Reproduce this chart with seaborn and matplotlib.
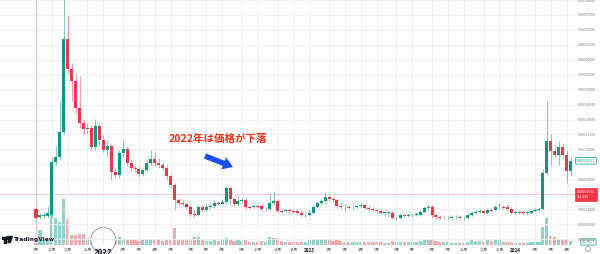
import numpy as np
import pandas as pd
import matplotlib
matplotlib.use("Agg")
import matplotlib.pyplot as plt
import seaborn as sns
from matplotlib.patches import Circle, FancyArrow, Rectangle, Polygon
from matplotlib.transforms import IdentityTransform

# ---------------- data (weekly candles, price in units of 1e-6) ----------------
open_ = [10.0, 7.3, 7.7, 7.7, 8.0, 25.7, 27.3, 35.7, 67.0, 57.0,
         53.0, 44.0, 39.0, 36.7, 37.0, 30.7, 37.7, 33.0, 29.7, 31.0,
         22.3, 21.3, 28.7, 30.0, 25.3, 23.7, 23.3, 21.7, 23.0, 25.3,
         26.7, 25.3, 24.7, 23.7, 21.0, 18.0, 13.0, 12.0, 11.7, 10.7,
         8.3, 8.0, 10.7, 9.7, 10.7, 11.0, 12.0, 11.7, 12.3, 17.0,
         13.3, 11.7, 12.7, 13.0, 10.7, 10.7, 11.0, 11.0, 10.0, 10.0,
         12.0, 12.7, 9.3, 9.3, 9.7, 9.3, 9.3, 8.7, 8.0, 8.0,
         8.7, 10.7, 12.0, 12.7, 14.0, 13.3, 13.0, 11.0, 10.7, 10.7,
         10.7, 10.7, 11.0, 11.3, 10.3, 10.0, 9.7, 9.3, 8.7, 8.7,
         8.7, 7.0, 7.0, 8.0, 7.7, 8.0, 8.0, 8.0, 9.0, 10.3,
         10.7, 8.0, 7.3, 7.0, 7.0, 7.0, 7.3, 7.3, 7.0, 7.0,
         8.0, 8.7, 9.0, 9.3, 8.7, 9.7, 9.7, 10.7, 10.7, 10.7,
         10.0, 8.7, 9.0, 9.0, 8.7, 8.7, 9.3, 9.7, 10.0, 22.0,
         32.7, 29.3, 28.0, 30.7, 28.0, 22.7]
close = [7.0, 8.0, 8.0, 8.7, 25.7, 27.3, 35.7, 67.0, 57.0, 53.0,
         44.0, 39.0, 36.7, 37.0, 30.7, 37.7, 33.0, 29.7, 31.0, 22.3,
         21.3, 28.7, 30.0, 25.3, 23.7, 23.3, 21.7, 23.0, 25.3, 26.7,
         25.3, 24.7, 23.7, 21.0, 18.0, 13.0, 12.0, 11.7, 10.7, 8.3,
         8.0, 10.7, 9.7, 10.7, 11.0, 12.0, 11.8, 12.3, 17.0, 13.3,
         11.7, 12.7, 13.0, 10.7, 10.5, 11.0, 10.8, 10.0, 10.0, 12.0,
         12.7, 9.3, 9.2, 9.7, 9.3, 9.2, 8.7, 8.0, 8.0, 8.7,
         10.7, 12.0, 12.7, 14.0, 13.3, 13.0, 11.0, 10.7, 10.7, 10.5,
         10.7, 11.0, 11.3, 10.3, 10.0, 9.7, 9.3, 8.7, 8.7, 8.7,
         7.0, 7.0, 8.0, 7.7, 8.0, 8.0, 8.3, 9.0, 10.3, 10.7,
         8.0, 7.3, 7.0, 7.2, 7.0, 7.3, 7.3, 7.2, 7.0, 8.0,
         8.7, 9.0, 9.3, 8.7, 9.7, 9.5, 10.7, 10.7, 10.5, 10.0,
         8.7, 9.0, 8.8, 8.7, 8.7, 9.3, 9.7, 10.0, 22.0, 32.7,
         29.3, 28.0, 30.7, 28.0, 22.7, 26.17]
high = [10.7, 8.7, 9.0, 11.0, 27.0, 31.3, 46.3, 80.7, 74.7, 59.0,
        55.7, 54.7, 40.3, 39.0, 38.0, 40.3, 39.0, 34.7, 33.0, 31.7,
        23.7, 29.7, 33.0, 31.0, 26.3, 24.7, 24.3, 23.7, 26.3, 29.7,
        29.0, 27.0, 25.7, 24.7, 21.7, 18.7, 13.7, 13.0, 12.0, 11.3,
        9.7, 11.3, 11.3, 11.7, 12.0, 13.0, 12.7, 13.3, 17.7, 17.3,
        14.0, 14.3, 13.7, 13.7, 11.3, 11.7, 11.7, 11.7, 10.7, 15.3,
        16.0, 13.3, 10.0, 10.3, 10.3, 10.0, 10.0, 9.3, 8.7, 9.7,
        11.3, 12.7, 13.3, 15.7, 14.7, 14.0, 13.7, 12.0, 11.7, 11.3,
        11.3, 11.7, 12.0, 12.0, 11.0, 10.7, 10.3, 10.0, 9.3, 9.3,
        9.3, 7.7, 8.7, 8.3, 8.7, 8.7, 9.0, 9.7, 11.0, 11.3,
        11.3, 8.7, 8.0, 7.7, 7.7, 8.0, 8.0, 8.0, 7.7, 8.7,
        9.3, 9.7, 10.0, 10.0, 10.3, 10.3, 11.3, 12.0, 11.3, 11.3,
        10.7, 9.7, 9.7, 9.3, 9.3, 10.0, 10.3, 10.7, 23.3, 46.3,
        35.3, 31.3, 32.7, 32.0, 29.7, 27.7]
low = [6.3, 6.7, 7.0, 7.0, 7.3, 24.7, 26.3, 35.0, 55.7, 46.3,
       42.3, 37.0, 35.3, 35.3, 29.7, 29.7, 31.3, 29.0, 27.7, 19.7,
       20.3, 20.3, 27.7, 24.3, 22.3, 22.3, 20.7, 21.0, 22.3, 24.7,
       24.3, 23.7, 23.0, 19.7, 17.0, 9.7, 11.0, 11.0, 10.0, 7.7,
       7.3, 7.7, 9.0, 9.3, 10.0, 10.3, 11.3, 11.3, 11.7, 11.3,
       11.0, 11.3, 12.0, 10.0, 10.0, 10.3, 10.3, 9.3, 9.3, 9.7,
       11.3, 8.7, 8.7, 9.0, 8.7, 8.7, 8.0, 7.3, 7.3, 7.7,
       8.3, 10.3, 11.7, 12.0, 12.7, 12.3, 10.3, 10.0, 9.3, 10.0,
       10.0, 10.3, 10.7, 10.0, 9.3, 9.3, 9.0, 8.3, 8.0, 8.0,
       6.7, 6.3, 6.7, 7.3, 7.3, 7.3, 7.7, 7.7, 8.7, 9.7,
       7.3, 6.7, 6.7, 6.7, 6.3, 6.7, 6.7, 6.7, 6.3, 6.7,
       7.7, 8.3, 8.7, 8.3, 8.3, 9.0, 9.3, 10.0, 10.0, 9.7,
       8.3, 8.3, 8.3, 8.0, 8.0, 8.3, 9.0, 9.3, 9.7, 21.3,
       24.7, 27.0, 24.7, 27.0, 18.7, 21.0]
volume = [10, 75, 25, 25, 230, 135, 115, 230, 130, 50,
          50, 55, 55, 35, 25, 30, 25, 30, 40, 35,
          25, 40, 30, 30, 25, 25, 20, 25, 25, 30,
          25, 30, 20, 25, 30, 85, 25, 25, 25, 25,
          40, 40, 25, 20, 20, 30, 20, 25, 35, 30,
          20, 25, 20, 25, 15, 15, 15, 20, 15, 40,
          35, 35, 20, 15, 15, 15, 15, 15, 15, 25,
          30, 25, 30, 25, 25, 20, 25, 20, 15, 15,
          15, 15, 15, 15, 15, 15, 15, 15, 10, 10,
          20, 15, 15, 15, 15, 15, 15, 20, 25, 25,
          30, 20, 15, 15, 15, 10, 10, 10, 10, 15,
          25, 20, 20, 15, 25, 20, 30, 25, 15, 15,
          15, 10, 10, 10, 10, 15, 15, 15, 90, 135,
          45, 40, 30, 25, 30, 19.961]
price_ticks = [0, 5, 10, 15, 20, 25, 30, 35, 40, 45, 50, 55, 60, 65, 70, 75, 80]
hidden_ticks = [15, 25]          # covered by the price tags in the reference
first_week = "2021-09-06"
crosshair_price = 15.13
countdown = "4d 23h"
volume_tag = "19.961T"
title_text = "2022年は価格が下落"

# ---------------- styling ----------------
sns.set_theme(style="white")
plt.rcParams["font.family"] = ["Noto Sans CJK JP", "DejaVu Sans"]
GREEN = "#089981"
RED = "#f23645"
VGREEN = "#8fd2c7"
VRED = "#f8a7ad"

n = len(close)
idx = np.arange(n)
o = np.array(open_); c = np.array(close); h = np.array(high); l = np.array(low)
up = c >= o
weeks = pd.date_range(first_week, periods=n, freq="W-MON")

W, H = 600, 254
fig = plt.figure(figsize=(W / 100, H / 100), dpi=100)
fig.patch.set_facecolor("white")
ax = fig.add_axes([0, 9 / H, 575 / W, 245 / H])
ax2 = ax.twinx()
ax.set_zorder(2)
ax.patch.set_visible(False)
ax2.set_zorder(1)

# volume (seaborn)
vol_df = pd.DataFrame({"i": idx, "vol": volume, "dir": np.where(up, "up", "down")})
sns.barplot(data=vol_df, x="i", y="vol", hue="dir", palette={"up": VGREEN, "down": VRED},
            native_scale=True, dodge=False, errorbar=None, width=0.78, saturation=1,
            legend=False, ax=ax2, linewidth=0)
ax2.set_ylim(0, 1225)
ax2.set_yticks([])
ax2.set_ylabel("")
ax2.set_xlabel("")

# candles
colors = np.where(up, GREEN, RED)
ax.vlines(idx, l, h, colors=colors, linewidth=0.6, alpha=0.6, zorder=3)
ax.bar(idx, np.maximum(np.abs(c - o), 0.18), bottom=np.minimum(o, c), width=0.76,
       color=colors, linewidth=0, zorder=4)

ax.set_xlim(-9.09, 136.1)
ax.set_ylim(-2, 79.67)

# ticks / grid
month_idx = [i for i in range(n) if i == 0 or weeks[i].month != weeks[i - 1].month]
month_lab = [str(weeks[i].year) if weeks[i].month == 1 else f"{weeks[i].month}月" for i in month_idx]
for m in month_idx:
    ax.axvline(m, color="#f0f0f0", lw=0.6, zorder=0)
for t in price_ticks:
    ax.axhline(t, color="#f0f0f0", lw=0.6, zorder=0)

ax.set_xticks(month_idx, month_lab)
ax.tick_params(axis="x", length=0, pad=2.4, labelsize=2.8, labelcolor="#555555")
for lab in ax.get_xticklabels():
    if lab.get_text().isdigit():
        lab.set_fontweight("bold")
        lab.set_color("#131722")
        lab.set_fontsize(3.3)
        if lab.get_text() == "2022":
            lab.set_fontsize(5.6)

ax.yaxis.tick_right()
ax.set_yticks(price_ticks, ["" if t in hidden_ticks else f"{t * 1e-6:.8f}" for t in price_ticks])
ax.tick_params(axis="y", length=0, pad=1.8, labelsize=2.6, labelcolor="#7a7a7a")
for a in (ax, ax2):
    for s in a.spines.values():
        s.set_visible(False)

# crosshair
ax.axvline(0, color="#f5a3aa", lw=0.6, alpha=0.8, zorder=2)
ax.axhline(crosshair_price, color="#f7bcc1", lw=0.6, alpha=0.8, zorder=2)

# tags
ax.text(1.003, c[-1], f"{c[-1] * 1e-6:.8f}", transform=ax.get_yaxis_transform(),
        fontsize=2.6, color=GREEN, ha="left", va="center", clip_on=False, zorder=10,
        bbox=dict(boxstyle="round,pad=0.35,rounding_size=0.25", fc="white", ec=GREEN, lw=0.5))
ax.text(1.003, crosshair_price + 1.3, f"{crosshair_price * 1e-6:.8f}\n{countdown}",
        transform=ax.get_yaxis_transform(), fontsize=2.6, color="white", ha="left", va="top",
        linespacing=1.5, clip_on=False, zorder=10,
        bbox=dict(boxstyle="square,pad=0.45", fc=RED, ec=RED, lw=0.5))
ax2.text(1.012, volume[-1] - 5, volume_tag, transform=ax2.get_yaxis_transform(),
         fontsize=2.6, color=GREEN, ha="left", va="center", clip_on=False, zorder=10,
         bbox=dict(boxstyle="round,pad=0.3,rounding_size=0.25", fc="white", ec=GREEN, lw=0.5))

# circle highlight around 2022
fig.canvas.draw()
x2022 = ax.transData.transform((month_idx[month_lab.index("2022")], 0))[0]
fig.add_artist(Circle((x2022, H - 240), 12.5, transform=IdentityTransform(),
                      facecolor="white", edgecolor="#9a9a9a", lw=0.7, zorder=1.5))

# annotation
fig.text(218 / W, 1 - 138.5 / H, title_text, fontsize=7.6, fontweight="bold",
         color="#f5311c", ha="center", va="center")
fig.add_artist(FancyArrow(205, H - 156, 28, -11, width=5.5, head_width=13, head_length=10,
                          length_includes_head=True, color="#1c4fe8", lw=0,
                          transform=IdentityTransform(), zorder=5))

# TradingView logo
fig.add_artist(Rectangle((2, H - 238.5), 4.5, 2, transform=IdentityTransform(), color="#131722", zorder=6))
fig.add_artist(Rectangle((4, H - 242.5), 2.2, 6, transform=IdentityTransform(), color="#131722", zorder=6))
fig.add_artist(Circle((8, H - 237.5), 1.0, transform=IdentityTransform(), color="#131722", zorder=6))
fig.add_artist(Polygon([(9.8, H - 236.5), (12.3, H - 236.5), (10.3, H - 242.5), (7.8, H - 242.5)],
                       transform=IdentityTransform(), color="#131722", zorder=6))
fig.text(13.5 / W, 1 - 239.5 / H, "TradingView", fontsize=4.2, fontweight="bold",
         color="#131722", ha="left", va="center", family=["DejaVu Sans"])

# settings icon bottom-right
fig.add_artist(Circle((588, H - 249), 2.6, transform=IdentityTransform(), fill=False,
                      edgecolor="#8a8a8a", lw=0.5, zorder=6))

fig.savefig("out.png", dpi=100, facecolor="white")
